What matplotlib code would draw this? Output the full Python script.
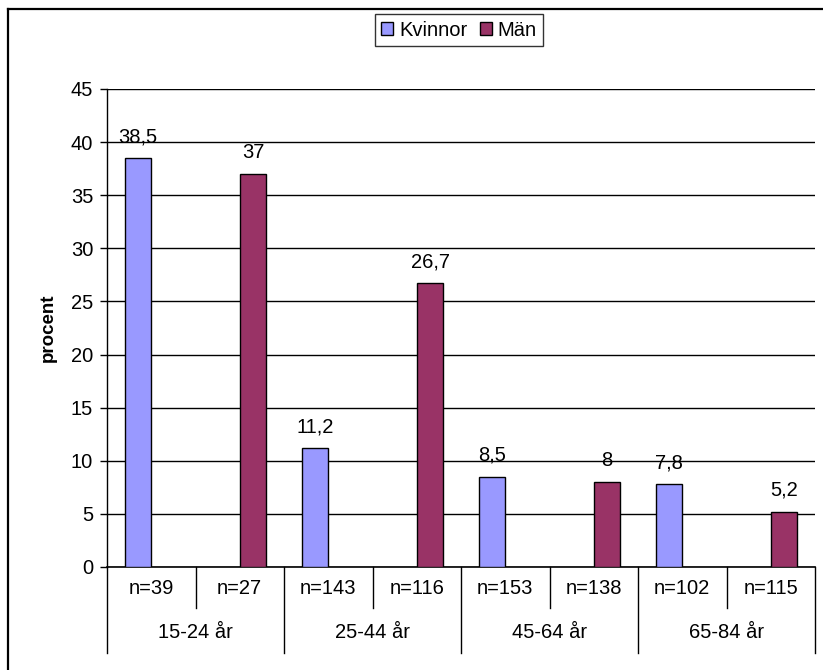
import matplotlib
matplotlib.use("Agg")
import matplotlib.pyplot as plt
from matplotlib.patches import Patch
from matplotlib.lines import Line2D
import matplotlib.transforms as mtransforms

plt.rcParams['font.family'] = ['Liberation Sans', 'DejaVu Sans']

groups = ['15-24 år', '25-44 år', '45-64 år', '65-84 år']
n_labels = ['n=39', 'n=27', 'n=143', 'n=116', 'n=153', 'n=138', 'n=102', 'n=115']
kvinnor = [38.5, 11.2, 8.5, 7.8]
man = [37, 26.7, 8, 5.2]

c_kv = '#9999FF'
c_man = '#993366'
fs = 14.5

fig = plt.figure(figsize=(8.23, 6.7), dpi=100)
ax = fig.add_axes([107/823, 1-567/670, (815-107)/823, (567-89)/670])

w = 0.3
kv_x = [2*i - w/2 for i in range(4)]
man_x = [2*i + 1 + w/2 for i in range(4)]
ax.bar(kv_x, kvinnor, width=w, color=c_kv, edgecolor='black', linewidth=1, zorder=3)
ax.bar(man_x, man, width=w, color=c_man, edgecolor='black', linewidth=1, zorder=3)

def fmt(v):
    return ('%g' % v).replace('.', ',')

for x, v in list(zip(kv_x, kvinnor)) + list(zip(man_x, man)):
    ax.annotate(fmt(v), (x, v), xytext=(0, 11.5), textcoords='offset points',
                ha='center', va='baseline', fontsize=fs)

ax.set_xlim(-0.5, 7.5)
ax.set_ylim(0, 45)
ax.set_yticks(range(0, 50, 5))
ax.yaxis.grid(True, color='black', linewidth=1, zorder=0)
ax.set_axisbelow(True)
ax.tick_params(axis='y', direction='out', length=5, width=1, labelsize=fs, pad=5)
ax.set_xticks([])
for s in ['top', 'right']:
    ax.spines[s].set_visible(False)
ax.spines['left'].set_linewidth(1)
ax.spines['bottom'].set_linewidth(1.2)
ax.set_ylabel('procent', fontsize=13.5, fontweight='bold', labelpad=10)

# multi-level category axis
trans = mtransforms.blended_transform_factory(ax.transData, ax.transAxes)
for k in range(9):
    xb = k - 0.5
    ybot = -0.180 if k % 2 == 0 else -0.0858
    ax.plot([xb, xb], [0, ybot], color='black', linewidth=1, transform=trans, clip_on=False)
for i, lab in enumerate(n_labels):
    ax.text(i, -0.044, lab, transform=trans, ha='center', va='center', fontsize=fs)
for g, lab in enumerate(groups):
    ax.text(2*g + 0.5, -0.136, lab, transform=trans, ha='center', va='center', fontsize=fs)

handles = [Patch(facecolor=c_kv, edgecolor='black', label='Kvinnor'),
           Patch(facecolor=c_man, edgecolor='black', label='Män')]
leg = fig.legend(handles=handles, loc='center', bbox_to_anchor=(459/823, 1-30/670), ncol=2,
                 fontsize=fs, frameon=True, fancybox=False, handlelength=0.6, handleheight=0.6,
                 handletextpad=0.3, columnspacing=0.6, borderpad=0.3, borderaxespad=0)
leg.get_frame().set_edgecolor('black')
leg.get_frame().set_linewidth(1)

# outer chart border (top and left visible)
fig.add_artist(Line2D([8/823, 1], [1-9/670, 1-9/670], color='black', linewidth=1.6))
fig.add_artist(Line2D([8/823, 8/823], [0, 1-9/670], color='black', linewidth=1.6))

fig.savefig('out.png', dpi=100)
